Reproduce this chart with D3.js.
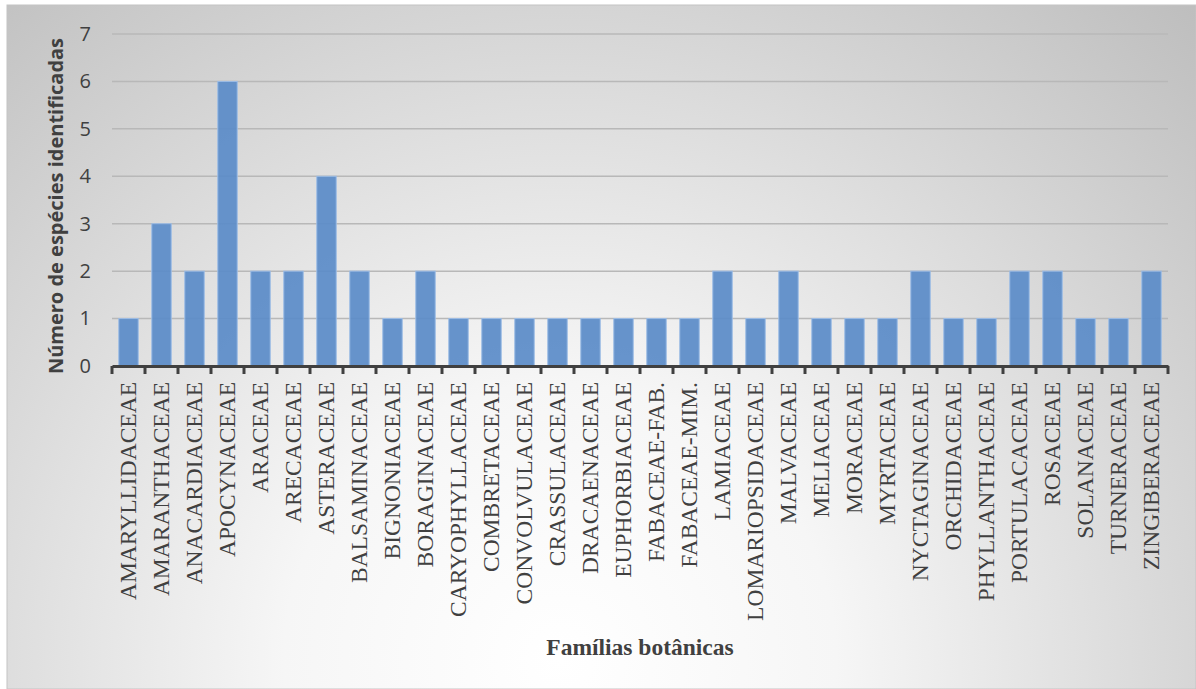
<!DOCTYPE html>
<html>
<head>
<meta charset="utf-8">
<script src="https://cdn.jsdelivr.net/npm/d3@7"></script>
<style>
  html, body { margin: 0; padding: 0; background: #ffffff; }
  svg { display: block; }
</style>
</head>
<body>
<svg id="chart" width="1196" height="689"></svg>
<script>
// Plant families and the number of species identified in each
const families = [
  "AMARYLLIDACEAE", "AMARANTHACEAE", "ANACARDIACEAE", "APOCYNACEAE", "ARACEAE",
  "ARECACEAE", "ASTERACEAE", "BALSAMINACEAE", "BIGNONIACEAE", "BORAGINACEAE",
  "CARYOPHYLLACEAE", "COMBRETACEAE", "CONVOLVULACEAE", "CRASSULACEAE", "DRACAENACEAE",
  "EUPHORBIACEAE", "FABACEAE-FAB.", "FABACEAE-MIM.", "LAMIACEAE", "LOMARIOPSIDACEAE",
  "MALVACEAE", "MELIACEAE", "MORACEAE", "MYRTACEAE", "NYCTAGINACEAE",
  "ORCHIDACEAE", "PHYLLANTHACEAE", "PORTULACACEAE", "ROSACEAE", "SOLANACEAE",
  "TURNERACEAE", "ZINGIBERACEAE"
];
const speciesCount = [
  1, 3, 2, 6, 2,
  2, 4, 2, 1, 2,
  1, 1, 1, 1, 1,
  1, 1, 1, 2, 1,
  2, 1, 1, 1, 2,
  1, 1, 2, 2, 1,
  1, 2
];
const yTicks = [0, 1, 2, 3, 4, 5, 6, 7];
const yTitle = "Número de espécies identificadas";
const xTitle = "Famílias botânicas";

const svg = d3.select("#chart");
const W = 1196, H = 689;

// Chart area background: soft radial shading
const defs = svg.append("defs");
const grad = defs.append("radialGradient")
  .attr("id", "bg")
  .attr("gradientUnits", "userSpaceOnUse")
  .attr("cx", 560).attr("cy", 660).attr("r", 920);
grad.append("stop").attr("offset", 0).attr("stop-color", "#ffffff");
grad.append("stop").attr("offset", 0.3).attr("stop-color", "#f6f6f6");
grad.append("stop").attr("offset", 1).attr("stop-color", "#bdbdbd");

svg.append("rect")
  .attr("x", 7).attr("y", 5)
  .attr("width", W - 7).attr("height", H - 5)
  .attr("fill", "url(#bg)")
  .attr("stroke", "#c4c4c4").attr("stroke-width", 1);

// Plot area
const plot = { left: 112, right: 1168, top: 34, bottom: 366 };

const x = d3.scaleBand()
  .domain(families)
  .range([plot.left, plot.right])
  .paddingInner(0.41)
  .paddingOuter(0.205);

const y = d3.scaleLinear()
  .domain([0, 7])
  .range([plot.bottom, plot.top]);

// Horizontal gridlines
svg.append("g")
  .selectAll("line")
  .data(yTicks.slice(1))
  .join("line")
  .attr("x1", plot.left).attr("x2", plot.right)
  .attr("y1", d => y(d)).attr("y2", d => y(d))
  .attr("stroke", "#b8b8b8")
  .attr("stroke-width", 1.5);

// Bars
svg.append("g")
  .selectAll("rect")
  .data(families)
  .join("rect")
  .attr("x", d => x(d))
  .attr("y", (d, i) => y(speciesCount[i]))
  .attr("width", x.bandwidth())
  .attr("height", (d, i) => y(0) - y(speciesCount[i]))
  .attr("fill", "#5b8cc8")
  .attr("fill-opacity", 0.93)
  .attr("stroke", "#9dbde6")
  .attr("stroke-width", 1);

// Y axis tick labels
const yAxis = d3.axisLeft(y)
  .tickValues(yTicks)
  .tickFormat(d3.format("d"))
  .tickSize(0)
  .tickPadding(0);
const gy = svg.append("g")
  .attr("transform", `translate(${plot.left - 21},0)`)
  .call(yAxis);
gy.select(".domain").remove();
gy.selectAll("text")
  .attr("fill", "#404040")
  .style("font-family", "'Open Sans', sans-serif")
  .style("font-size", "20px");

// X axis with ticks between categories
const xAxis = d3.axisBottom(x).tickSize(0).tickSizeOuter(0);
const gx = svg.append("g")
  .attr("transform", `translate(0,${plot.bottom})`)
  .call(xAxis);
gx.select(".domain")
  .attr("stroke", "#404040")
  .attr("stroke-width", 3);
const step = x.step();
gx.selectAll(".sep")
  .data(d3.range(families.length + 1))
  .join("line")
  .attr("class", "sep")
  .attr("x1", i => plot.left + i * step)
  .attr("x2", i => plot.left + i * step)
  .attr("y1", 0).attr("y2", 8)
  .attr("stroke", "#404040")
  .attr("stroke-width", 3);
gx.selectAll(".tick text")
  .attr("transform", "rotate(-90)")
  .attr("x", -16)
  .attr("y", 0)
  .attr("dy", "0.33em")
  .attr("text-anchor", "end")
  .attr("fill", "#404040")
  .style("font-family", "'Liberation Serif', 'Times New Roman', serif")
  .style("font-size", "23.5px");

// Axis titles
svg.append("text")
  .attr("transform", `translate(63,${(plot.top + plot.bottom) / 2 + 6}) rotate(-90)`)
  .attr("text-anchor", "middle")
  .attr("fill", "#404040")
  .style("font-family", "'Open Sans', sans-serif")
  .style("font-weight", "bold")
  .style("font-size", "20px")
  .text(yTitle);

svg.append("text")
  .attr("x", 640)
  .attr("y", 655)
  .attr("text-anchor", "middle")
  .attr("fill", "#404040")
  .style("font-family", "'Liberation Serif', 'Times New Roman', serif")
  .style("font-weight", "bold")
  .style("font-size", "23.5px")
  .text(xTitle);
</script>
</body>
</html>
